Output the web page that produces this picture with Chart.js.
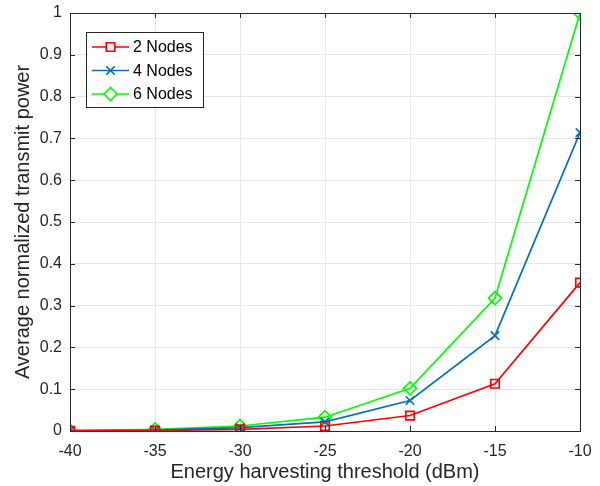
<!DOCTYPE html>
<html>
<head>
<meta charset="utf-8">
<script src="https://cdn.jsdelivr.net/npm/chart.js@4/dist/chart.umd.min.js"></script>
<style>
  html, body { margin: 0; padding: 0; background: #fff; }
</style>
</head>
<body>
<canvas id="powerChart" width="600" height="486"></canvas>
<script>
// threshold values (dBm)
const thresholds = [-40, -35, -30, -25, -20, -15, -10];
// average normalized transmit power
const nodes2 = [0.0005, 0.001, 0.004, 0.012, 0.037, 0.113, 0.355];
const nodes4 = [0.001, 0.002, 0.008, 0.022, 0.073, 0.228, 0.714];
const nodes6 = [0.001, 0.004, 0.012, 0.033, 0.102, 0.318, 1.0];
const seriesNames = ['2 Nodes', '4 Nodes', '6 Nodes'];
const yTicks = [0, 0.1, 0.2, 0.3, 0.4, 0.5, 0.6, 0.7, 0.8, 0.9, 1];

const FONT = 'Liberation Sans, Arial, Helvetica, sans-serif';

function toPoints(vals) {
    return thresholds.map((x, i) => ({ x: x, y: vals[i] }));
}

// MATLAB-like box around the axes with inward ticks
const axesBox = {
    id: 'axesBox',
    afterDraw(chart) {
        const { ctx, chartArea: a, scales } = chart;
        ctx.save();
        ctx.strokeStyle = '#262626';
        ctx.lineWidth = 1;
        ctx.strokeRect(Math.round(a.left) + 0.5, Math.round(a.top) + 0.5,
            Math.round(a.right - a.left), Math.round(a.bottom - a.top));
        ctx.beginPath();
        thresholds.forEach(v => {
            const x = Math.round(scales.x.getPixelForValue(v)) + 0.5;
            ctx.moveTo(x, a.bottom); ctx.lineTo(x, a.bottom - 5);
            ctx.moveTo(x, a.top); ctx.lineTo(x, a.top + 5);
        });
        yTicks.forEach(v => {
            const y = Math.round(scales.y.getPixelForValue(v)) + 0.5;
            ctx.moveTo(a.left, y); ctx.lineTo(a.left + 5, y);
            ctx.moveTo(a.right, y); ctx.lineTo(a.right - 5, y);
        });
        ctx.stroke();

        // legend box
        const lx = 86, ly = 32, lw = 117, lh = 75;
        ctx.fillStyle = '#fff';
        ctx.fillRect(lx, ly, lw, lh);
        ctx.strokeStyle = '#262626';
        ctx.lineWidth = 1;
        ctx.strokeRect(lx + 0.5, ly + 0.5, lw, lh);
        chart.data.datasets.forEach((ds, i) => {
            const y = ly + 15 + i * 23.5;
            ctx.strokeStyle = ds.borderColor;
            ctx.lineWidth = 1.7;
            ctx.beginPath();
            ctx.moveTo(lx + 6, y); ctx.lineTo(lx + 43, y);
            ctx.stroke();
            ctx.fillStyle = '#fff';
            Chart.helpers.drawPoint(ctx, {
                pointStyle: ds.pointStyle, radius: ds.pointRadius, borderWidth: 1.7
            }, lx + 24.5, y);
            ctx.fillStyle = '#000';
            ctx.font = '16px ' + FONT;
            ctx.textBaseline = 'middle';
            ctx.fillText(seriesNames[i], lx + 47, y + 1);
        });
        ctx.restore();
    }
};

const ctx = document.getElementById('powerChart').getContext('2d');
new Chart(ctx, {
    type: 'line',
    data: {
        datasets: [
            { label: seriesNames[0], data: toPoints(nodes2), borderColor: '#ff0000', pointStyle: 'rect', pointRadius: 6 },
            { label: seriesNames[1], data: toPoints(nodes4), borderColor: '#0072bd', pointStyle: 'crossRot', pointRadius: 6 },
            { label: seriesNames[2], data: toPoints(nodes6), borderColor: '#00ff00', pointStyle: 'rectRot', pointRadius: 6.5 }
        ].map(ds => Object.assign(ds, {
            backgroundColor: 'rgba(0,0,0,0)',
            pointBackgroundColor: 'rgba(0,0,0,0)',
            pointBorderColor: ds.borderColor,
            borderWidth: 1.7,
            pointBorderWidth: 1.7,
            tension: 0
        }))
    },
    options: {
        responsive: false,
        animation: false,
        devicePixelRatio: 1,
        layout: { padding: { top: 13, right: 20, left: 0, bottom: 0 } },
        plugins: { legend: { display: false }, tooltip: { enabled: false } },
        scales: {
            x: {
                type: 'linear', min: -40, max: -10,
                afterFit: s => { s.height = 55; s.paddingLeft = 0; s.paddingRight = 0; },
                ticks: { stepSize: 5, color: '#262626', font: { family: FONT, size: 16 }, padding: 11, maxRotation: 0, autoSkip: false },
                grid: { color: '#e6e6e6', drawTicks: false },
                border: { display: false },
                title: { display: true, text: 'Energy harvesting threshold (dBm)', color: '#262626', font: { family: FONT, size: 20 }, padding: { top: 0, bottom: 2 } }
            },
            y: {
                min: 0, max: 1,
                afterFit: s => { s.width = 70; s.paddingTop = 0; s.paddingBottom = 0; },
                afterBuildTicks: s => { s.ticks = yTicks.map(v => ({ value: v })); },
                ticks: { color: '#262626', font: { family: FONT, size: 16 }, padding: 8, autoSkip: false,
                    callback: v => String(Math.round(v * 10) / 10) },
                grid: { color: '#e6e6e6', drawTicks: false },
                border: { display: false },
                title: { display: true, text: 'Average normalized transmit power', color: '#262626', font: { family: FONT, size: 20 }, padding: { top: 11, bottom: 0 } }
            }
        }
    },
    plugins: [axesBox]
});
</script>
</body>
</html>
